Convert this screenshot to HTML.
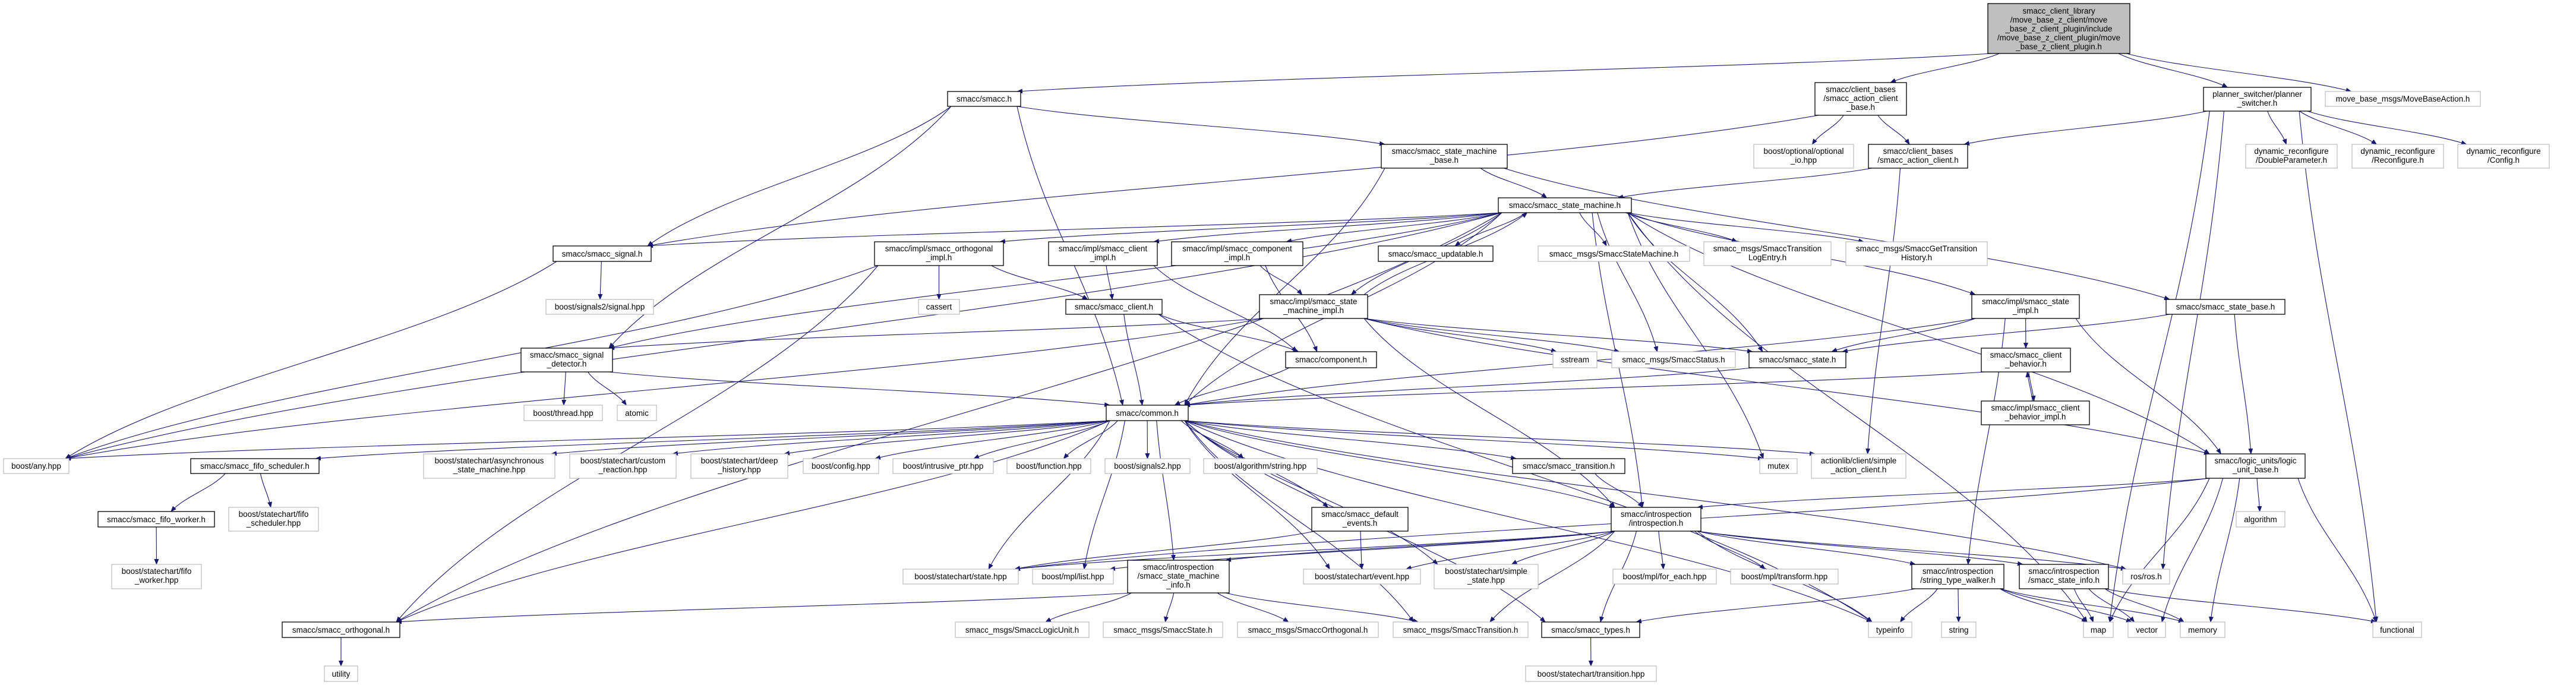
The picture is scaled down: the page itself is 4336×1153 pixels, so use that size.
<!DOCTYPE html>
<html><head><meta charset="utf-8">
<style>
html,body{margin:0;padding:0;background:#fff;}
svg{display:block;}
text{font-family:"Liberation Sans",sans-serif;font-size:13.5px;fill:#000;text-anchor:middle;}
.b{fill:#fff;stroke:#000;stroke-width:1.3;}
.g{fill:#fff;stroke:#bfbfbf;stroke-width:1.3;}
.r{fill:#bfbfbf;stroke:#000;stroke-width:1.3;}
</style></head>
<body>
<svg id="s" width="4336" height="1153" viewBox="0 0 4336 1153" xmlns="http://www.w3.org/2000/svg">
<defs><marker id="a" markerWidth="10" markerHeight="8" refX="9" refY="4" orient="auto" markerUnits="userSpaceOnUse"><path d="M0,0 L10,4 L0,8 z" fill="#191970"/></marker></defs>
<g id="edges" fill="none" stroke="#191970" stroke-width="1.1"></g>
<g id="nodes">
<rect class="r" x="3346" y="6" width="239" height="84"/><text x="3465.5" y="23">smacc_client_library</text><text x="3465.5" y="38">/move_base_z_client/move</text><text x="3465.5" y="53">_base_z_client_plugin/include</text><text x="3465.5" y="68">/move_base_z_client_plugin/move</text><text x="3465.5" y="83">_base_z_client_plugin.h</text>
<rect class="b" x="1595" y="154" width="123" height="25"/><text x="1656.5" y="171">smacc/smacc.h</text>
<rect class="b" x="3055" y="139" width="154" height="55"/><text x="3132" y="155">smacc/client_bases</text><text x="3132" y="170">/smacc_action_client</text><text x="3132" y="185">_base.h</text>
<rect class="b" x="3709" y="147" width="181" height="40"/><text x="3799.5" y="163">planner_switcher/planner</text><text x="3799.5" y="178">_switcher.h</text>
<rect class="g" x="3914" y="154" width="261" height="25"/><text x="4044.5" y="171">move_base_msgs/MoveBaseAction.h</text>
<rect class="g" x="3780" y="243" width="154" height="40"/><text x="3857" y="259">dynamic_reconfigure</text><text x="3857" y="274">/DoubleParameter.h</text>
<rect class="g" x="3959" y="243" width="154" height="40"/><text x="4036" y="259">dynamic_reconfigure</text><text x="4036" y="274">/Reconfigure.h</text>
<rect class="g" x="4137" y="243" width="154" height="40"/><text x="4214" y="259">dynamic_reconfigure</text><text x="4214" y="274">/Config.h</text>
<rect class="b" x="3145" y="243" width="167" height="40"/><text x="3228.5" y="259">smacc/client_bases</text><text x="3228.5" y="274">/smacc_action_client.h</text>
<rect class="g" x="2952" y="243" width="168" height="40"/><text x="3036" y="259">boost/optional/optional</text><text x="3036" y="274">_io.hpp</text>
<rect class="b" x="2325" y="243" width="212" height="40"/><text x="2431" y="259">smacc/smacc_state_machine</text><text x="2431" y="274">_base.h</text>
<rect class="b" x="2522" y="333" width="224" height="25"/><text x="2634" y="350">smacc/smacc_state_machine.h</text>
<rect class="b" x="931" y="414" width="165" height="26"/><text x="1013.5" y="432">smacc/smacc_signal.h</text>
<rect class="b" x="1472" y="407" width="217" height="40"/><text x="1580.5" y="423">smacc/impl/smacc_orthogonal</text><text x="1580.5" y="438">_impl.h</text>
<rect class="b" x="1765" y="407" width="183" height="40"/><text x="1856.5" y="423">smacc/impl/smacc_client</text><text x="1856.5" y="438">_impl.h</text>
<rect class="b" x="1972" y="407" width="221" height="40"/><text x="2082.5" y="423">smacc/impl/smacc_component</text><text x="2082.5" y="438">_impl.h</text>
<rect class="b" x="2320" y="414" width="193" height="26"/><text x="2416.5" y="432">smacc/smacc_updatable.h</text>
<rect class="g" x="2589" y="414" width="255" height="26"/><text x="2716.5" y="432">smacc_msgs/SmaccStateMachine.h</text>
<rect class="g" x="2868" y="407" width="214" height="40"/><text x="2975" y="423">smacc_msgs/SmaccTransition</text><text x="2975" y="438">LogEntry.h</text>
<rect class="g" x="3107" y="407" width="238" height="40"/><text x="3226" y="423">smacc_msgs/SmaccGetTransition</text><text x="3226" y="438">History.h</text>
<rect class="g" x="919" y="504" width="181" height="25"/><text x="1009.5" y="521">boost/signals2/signal.hpp</text>
<rect class="g" x="1546" y="504" width="69" height="25"/><text x="1580.5" y="521">cassert</text>
<rect class="b" x="1794" y="504" width="162" height="25"/><text x="1875" y="521">smacc/smacc_client.h</text>
<rect class="b" x="2120" y="496" width="182" height="40"/><text x="2211" y="512">smacc/impl/smacc_state</text><text x="2211" y="527">_machine_impl.h</text>
<rect class="b" x="3319" y="496" width="181" height="40"/><text x="3409.5" y="512">smacc/impl/smacc_state</text><text x="3409.5" y="527">_impl.h</text>
<rect class="b" x="3646" y="504" width="200" height="25"/><text x="3746" y="521">smacc/smacc_state_base.h</text>
<rect class="b" x="877" y="586" width="154" height="40"/><text x="954" y="602">smacc/smacc_signal</text><text x="954" y="617">_detector.h</text>
<rect class="b" x="2164" y="592" width="153" height="27"/><text x="2240.5" y="610">smacc/component.h</text>
<rect class="g" x="2614" y="592" width="74" height="27"/><text x="2651" y="610">sstream</text>
<rect class="g" x="2713" y="592" width="208" height="27"/><text x="2817" y="610">smacc_msgs/SmaccStatus.h</text>
<rect class="b" x="2944" y="592" width="163" height="27"/><text x="3025.5" y="610">smacc/smacc_state.h</text>
<rect class="b" x="3335" y="586" width="150" height="40"/><text x="3410" y="602">smacc/smacc_client</text><text x="3410" y="617">_behavior.h</text>
<rect class="b" x="3335" y="675" width="182" height="40"/><text x="3426" y="691">smacc/impl/smacc_client</text><text x="3426" y="706">_behavior_impl.h</text>
<rect class="g" x="882" y="682" width="132" height="26"/><text x="948" y="700">boost/thread.hpp</text>
<rect class="g" x="1039" y="682" width="66" height="26"/><text x="1072" y="700">atomic</text>
<rect class="b" x="1862" y="682" width="138" height="26"/><text x="1931" y="700">smacc/common.h</text>
<rect class="g" x="6" y="772" width="110" height="25"/><text x="61" y="789">boost/any.hpp</text>
<rect class="b" x="321" y="772" width="216" height="25"/><text x="429" y="789">smacc/smacc_fifo_scheduler.h</text>
<rect class="g" x="713" y="764" width="221" height="41"/><text x="823.5" y="780">boost/statechart/asynchronous</text><text x="823.5" y="795">_state_machine.hpp</text>
<rect class="g" x="959" y="764" width="179" height="41"/><text x="1048.5" y="780">boost/statechart/custom</text><text x="1048.5" y="795">_reaction.hpp</text>
<rect class="g" x="1163" y="764" width="163" height="41"/><text x="1244.5" y="780">boost/statechart/deep</text><text x="1244.5" y="795">_history.hpp</text>
<rect class="g" x="1352" y="772" width="127" height="25"/><text x="1415.5" y="789">boost/config.hpp</text>
<rect class="g" x="1503" y="772" width="169" height="25"/><text x="1587.5" y="789">boost/intrusive_ptr.hpp</text>
<rect class="g" x="1695" y="772" width="141" height="25"/><text x="1765.5" y="789">boost/function.hpp</text>
<rect class="g" x="1860" y="772" width="143" height="25"/><text x="1931.5" y="789">boost/signals2.hpp</text>
<rect class="g" x="2026" y="772" width="191" height="25"/><text x="2121.5" y="789">boost/algorithm/string.hpp</text>
<rect class="b" x="2546" y="772" width="189" height="25"/><text x="2640.5" y="789">smacc/smacc_transition.h</text>
<rect class="g" x="2962" y="772" width="63" height="25"/><text x="2993.5" y="789">mutex</text>
<rect class="g" x="3049" y="764" width="159" height="41"/><text x="3128.5" y="780">actionlib/client/simple</text><text x="3128.5" y="795">_action_client.h</text>
<rect class="b" x="3713" y="764" width="167" height="41"/><text x="3796.5" y="780">smacc/logic_units/logic</text><text x="3796.5" y="795">_unit_base.h</text>
<rect class="b" x="165" y="861" width="196" height="26"/><text x="263" y="879">smacc/smacc_fifo_worker.h</text>
<rect class="g" x="385" y="854" width="151" height="40"/><text x="460.5" y="870">boost/statechart/fifo</text><text x="460.5" y="885">_scheduler.hpp</text>
<rect class="b" x="2208" y="854" width="162" height="40"/><text x="2289" y="870">smacc/smacc_default</text><text x="2289" y="885">_events.h</text>
<rect class="b" x="2712" y="854" width="151" height="40"/><text x="2787.5" y="870">smacc/introspection</text><text x="2787.5" y="885">/introspection.h</text>
<rect class="g" x="3764" y="861" width="82" height="26"/><text x="3805" y="879">algorithm</text>
<rect class="g" x="188" y="950" width="151" height="41"/><text x="263.5" y="966">boost/statechart/fifo</text><text x="263.5" y="981">_worker.hpp</text>
<rect class="g" x="1520" y="958" width="194" height="25"/><text x="1617" y="975">boost/statechart/state.hpp</text>
<rect class="g" x="1738" y="958" width="136" height="25"/><text x="1806" y="975">boost/mpl/list.hpp</text>
<rect class="b" x="1898" y="943" width="171" height="55"/><text x="1983.5" y="959">smacc/introspection</text><text x="1983.5" y="974">/smacc_state_machine</text><text x="1983.5" y="989">_info.h</text>
<rect class="g" x="2194" y="958" width="197" height="25"/><text x="2292.5" y="975">boost/statechart/event.hpp</text>
<rect class="g" x="2414" y="950" width="175" height="41"/><text x="2501.5" y="966">boost/statechart/simple</text><text x="2501.5" y="981">_state.hpp</text>
<rect class="g" x="2715" y="958" width="174" height="25"/><text x="2802" y="975">boost/mpl/for_each.hpp</text>
<rect class="g" x="2913" y="958" width="181" height="25"/><text x="3003.5" y="975">boost/mpl/transform.hpp</text>
<rect class="b" x="3218" y="950" width="155" height="41"/><text x="3295.5" y="966">smacc/introspection</text><text x="3295.5" y="981">/string_type_walker.h</text>
<rect class="b" x="3399" y="950" width="150" height="41"/><text x="3474" y="966">smacc/introspection</text><text x="3474" y="981">/smacc_state_info.h</text>
<rect class="g" x="3573" y="958" width="79" height="25"/><text x="3612.5" y="975">ros/ros.h</text>
<rect class="b" x="475" y="1047" width="198" height="26"/><text x="574" y="1065">smacc/smacc_orthogonal.h</text>
<rect class="g" x="1608" y="1047" width="225" height="26"/><text x="1720.5" y="1065">smacc_msgs/SmaccLogicUnit.h</text>
<rect class="g" x="1857" y="1047" width="201" height="26"/><text x="1957.5" y="1065">smacc_msgs/SmaccState.h</text>
<rect class="g" x="2083" y="1047" width="237" height="26"/><text x="2201.5" y="1065">smacc_msgs/SmaccOrthogonal.h</text>
<rect class="g" x="2345" y="1047" width="227" height="26"/><text x="2458.5" y="1065">smacc_msgs/SmaccTransition.h</text>
<rect class="b" x="2595" y="1047" width="165" height="26"/><text x="2677.5" y="1065">smacc/smacc_types.h</text>
<rect class="g" x="3145" y="1047" width="73" height="26"/><text x="3181.5" y="1065">typeinfo</text>
<rect class="g" x="3268" y="1047" width="58" height="26"/><text x="3297" y="1065">string</text>
<rect class="g" x="3507" y="1047" width="50" height="26"/><text x="3532" y="1065">map</text>
<rect class="g" x="3582" y="1047" width="63" height="26"/><text x="3613.5" y="1065">vector</text>
<rect class="g" x="3670" y="1047" width="75" height="26"/><text x="3707.5" y="1065">memory</text>
<rect class="g" x="3994" y="1047" width="82" height="26"/><text x="4035" y="1065">functional</text>
<rect class="g" x="546" y="1121" width="56" height="26"/><text x="574" y="1139">utility</text>
<rect class="g" x="2568" y="1121" width="220" height="26"/><text x="2678" y="1139">boost/statechart/transition.hpp</text>
</g>
</svg>
<script>
var N={
root:[3346,6,3585,90],smacc:[1595,154,1718,179],acb:[3055,139,3209,194],ps:[3709,147,3890,187],mbm:[3914,154,4175,179],
dp:[3780,243,3934,283],rc:[3959,243,4113,283],cfg:[4137,243,4291,283],ac:[3145,243,3312,283],opt:[2952,243,3120,283],
smb:[2325,243,2537,283],sm:[2522,333,2746,358],sig:[931,414,1096,440],oimp:[1472,407,1689,447],cimp:[1765,407,1948,447],
compimp:[1972,407,2193,447],upd:[2320,414,2513,440],ssm:[2589,414,2844,440],tle:[2868,407,3082,447],gth:[3107,407,3345,447],
sig2h:[919,504,1100,529],cas:[1546,504,1615,529],cli:[1794,504,1956,529],smi:[2120,496,2302,536],simp:[3319,496,3500,536],
sbase:[3646,504,3846,529],det:[877,586,1031,626],comp:[2164,592,2317,619],sst:[2614,592,2688,619],status:[2713,592,2921,619],
state:[2944,592,3107,619],cb:[3335,586,3485,626],cbi:[3335,675,3517,715],thr:[882,682,1014,708],atm:[1039,682,1105,708],
com:[1862,682,2000,708],any:[6,772,116,797],fifs:[321,772,537,797],asm:[713,764,934,805],cus:[959,764,1138,805],
deep:[1163,764,1326,805],bcfg:[1352,772,1479,797],intr:[1503,772,1672,797],func:[1695,772,1836,797],s2:[1860,772,2003,797],
alg:[2026,772,2217,797],trn:[2546,772,2735,797],mtx:[2962,772,3025,797],sac:[3049,764,3208,805],lu:[3713,764,3880,805],
fw:[165,861,361,887],fsh:[385,854,536,894],de:[2208,854,2370,894],intro:[2712,854,2863,894],algo:[3764,861,3846,887],
fwh:[188,950,339,991],sth:[1520,958,1714,983],lst:[1738,958,1874,983],smin:[1898,943,2069,998],ev:[2194,958,2391,983],
ss:[2414,950,2589,991],fe:[2715,958,2889,983],tf:[2913,958,3094,983],stw:[3218,950,3373,991],sinfo:[3399,950,3549,991],
ros:[3573,958,3652,983],orth:[475,1047,673,1073],mlu:[1608,1047,1833,1073],mst:[1857,1047,2058,1073],mor:[2083,1047,2320,1073],
mtr:[2345,1047,2572,1073],typ:[2595,1047,2760,1073],ti:[3145,1047,3218,1073],str:[3268,1047,3326,1073],map:[3507,1047,3557,1073],
vec:[3582,1047,3645,1073],mem:[3670,1047,3745,1073],fn:[3994,1047,4076,1073],util:[546,1121,602,1147],thpp:[2568,1121,2788,1147]};
var E="root smacc,root acb,root ps,root mbm,smacc smb,smacc com,smacc det,smacc sig,acb opt,acb ac,acb sig,ps ac,ps dp,ps rc,ps cfg,ps ros,ps fn,ac sm,ac sac,smb sm,smb com,smb sbase,sm sig,sm oimp,sm cimp,sm compimp,sm upd,sm ssm,sm tle,sm gth,sm smi,sm simp,sm com,sm any,sm det,sm lu,sm mtx,sm status,sm state,sm intro,sm map,sm orth,oimp cas,oimp cli,oimp orth,oimp any,cimp cli,cimp comp,compimp comp,compimp smi,smi sm,smi sst,smi status,smi state,smi intro,smi lu,smi det,smi any,cli com,cli comp,cli ti,comp com,sig sig2h,sig any,det thr,det atm,det com,com any,com fifs,com asm,com cus,com deep,com bcfg,com intr,com func,com s2,com alg,com trn,com de,com ev,com sth,com lst,com smin,com mtr,com typ,com ss,com mtx,com sac,com ros,com intro,com orth,com ti,fifs fw,fifs fsh,fw fwh,orth util,trn intro,de ev,de sth,intro ev,intro ss,intro fe,intro tf,intro stw,intro sinfo,intro mtr,intro typ,intro ti,intro ros,intro smin,intro lst,intro sth,smin mlu,smin mst,smin mor,smin mtr,smin orth,typ thpp,stw str,stw map,stw vec,stw mem,stw typ,stw ti,sinfo map,sinfo vec,sinfo mem,sinfo fn,simp state,simp cb,simp stw,simp lu,simp com,cb cbi,cbi cb,cb com,sbase state,sbase lu,state com,lu algo,lu map,lu vec,lu mem,lu fn,lu intro,lu sth,ps map";
var g=document.getElementById('edges'),out='';
function cl(v,a,b){return Math.max(a,Math.min(b,v));}
function cub(x1,y1,x2,y2){var c1x=x1+(x2-x1)*0.25,c1y=y1+(y2-y1)*0.4,c2x=x2-(x2-x1)*0.25,c2y=y2-(y2-y1)*0.4;return 'M'+x1+','+y1+' C'+c1x+','+c1y+' '+c2x+','+c2y+' '+x2+','+y2;}
E.split(',').forEach(function(p){var q=p.split(' '),s=N[q[0]],t=N[q[1]];if(!s||!t)return;
var sx=(s[0]+s[2])/2,sy=(s[1]+s[3])/2,tx=(t[0]+t[2])/2,ty=(t[1]+t[3])/2,x1,y1,x2,y2,d;
if(t[1]>s[3]+5){x1=sx+cl((tx-sx)*0.3,-(s[2]-s[0])/2+6,(s[2]-s[0])/2-6);y1=s[3];x2=tx+cl((sx-tx)*0.15,-(t[2]-t[0])/2+6,(t[2]-t[0])/2-6);y2=t[1];d=cub(x1,y1,x2,y2);}
else if(t[3]<s[1]-5){x1=sx+cl((tx-sx)*0.3,-(s[2]-s[0])/2+6,(s[2]-s[0])/2-6);y1=s[1];x2=tx+cl((sx-tx)*0.15,-(t[2]-t[0])/2+6,(t[2]-t[0])/2-6);y2=t[3];d=cub(x1,y1,x2,y2);}
else{if(tx>sx){x1=s[2];x2=t[0];}else{x1=s[0];x2=t[2];}y1=sy;y2=ty;var k=(x2-x1)*0.4;d='M'+x1+','+y1+' C'+(x1+k)+','+y1+' '+(x2-k)+','+y2+' '+x2+','+y2;}
out+='<path d="'+d+'" marker-end="url(#a)"/>';});
g.innerHTML=out;
</script>
</body></html>
